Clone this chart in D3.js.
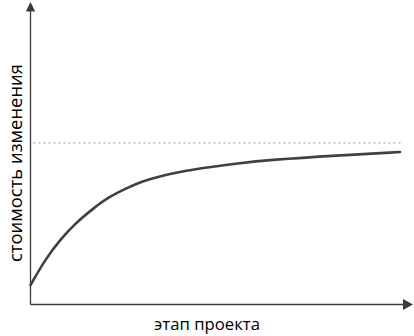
<!DOCTYPE html>
<html>
<head>
<meta charset="utf-8">
<script src="https://cdn.jsdelivr.net/npm/d3@7"></script>
<style>
  html, body { margin: 0; padding: 0; background: #fff; }
  svg { display: block; }
  text { font-family: "Open Sans", "DejaVu Sans", sans-serif; fill: #000; }
</style>
</head>
<body>
<svg id="chart" width="414" height="336"></svg>
<script>
// Data (stage of project 0..100, cost of change 0..100 where 100 = asymptote)
const stage = [0, 4, 8, 12, 17, 21, 26, 30, 34, 44, 56, 65, 83, 100];
const cost  = [12, 28, 40, 50, 59.5, 66.3, 72, 76, 79, 83.8, 87.4, 89.6, 92.3, 94.4];
const asymptote = [100];
const asymptoteStage = [0.8, 100.5];
const xLabel = "этап проекта";
const yLabel = "стоимость изменения";

const svg = d3.select("#chart");
const x = d3.scaleLinear().domain([0, 100]).range([30.5, 400]);
const y = d3.scaleLinear().domain([0, 100]).range([304.5, 143]);

const axisColor = "#3a3a3a";

// axes
svg.append("line")
  .attr("x1", x(0)).attr("x2", x(0))
  .attr("y1", y(0)).attr("y2", 10)
  .attr("stroke", axisColor).attr("stroke-width", 1.3);
svg.append("path")
  .attr("d", `M${x(0)},2 L${x(0) - 4.7},11.5 L${x(0) + 4.7},11.5 Z`)
  .attr("fill", axisColor);

svg.append("line")
  .attr("x1", x(0)).attr("x2", 404)
  .attr("y1", y(0)).attr("y2", y(0))
  .attr("stroke", axisColor).attr("stroke-width", 1.3);
svg.append("path")
  .attr("d", `M413,${y(0)} L403,${y(0) - 5.5} L403,${y(0) + 5.5} Z`)
  .attr("fill", axisColor);

// asymptote dotted line
svg.append("line")
  .attr("x1", x(asymptoteStage[0])).attr("x2", x(asymptoteStage[1]))
  .attr("y1", y(asymptote[0])).attr("y2", y(asymptote[0]))
  .attr("stroke", "#999").attr("stroke-width", 1)
  .attr("stroke-dasharray", "2,3");

// curve
const pts = stage.map((s, i) => [s, cost[i]]);
svg.append("path")
  .datum(pts)
  .attr("d", d3.line().x(d => x(d[0])).y(d => y(d[1])).curve(d3.curveBasis))
  .attr("fill", "none")
  .attr("stroke", "#404040")
  .attr("stroke-width", 2.6)
  .attr("stroke-linecap", "round");

// labels
const xl = svg.append("text")
  .attr("x", 207).attr("y", 330)
  .attr("text-anchor", "middle")
  .attr("font-size", 17)
  .text(xLabel);

const yl = svg.append("text")
  .attr("transform", "translate(22,163) rotate(-90)")
  .attr("text-anchor", "middle")
  .attr("font-size", 17)
  .text(yLabel);

// fit label lengths to the reference extents
function fit(sel, target) {
  const w = sel.node().getComputedTextLength();
  const fs = +sel.attr("font-size");
  sel.attr("font-size", (fs * target / w).toFixed(2));
}
fit(xl, 106);
fit(yl, 198);
</script>
</body>
</html>
